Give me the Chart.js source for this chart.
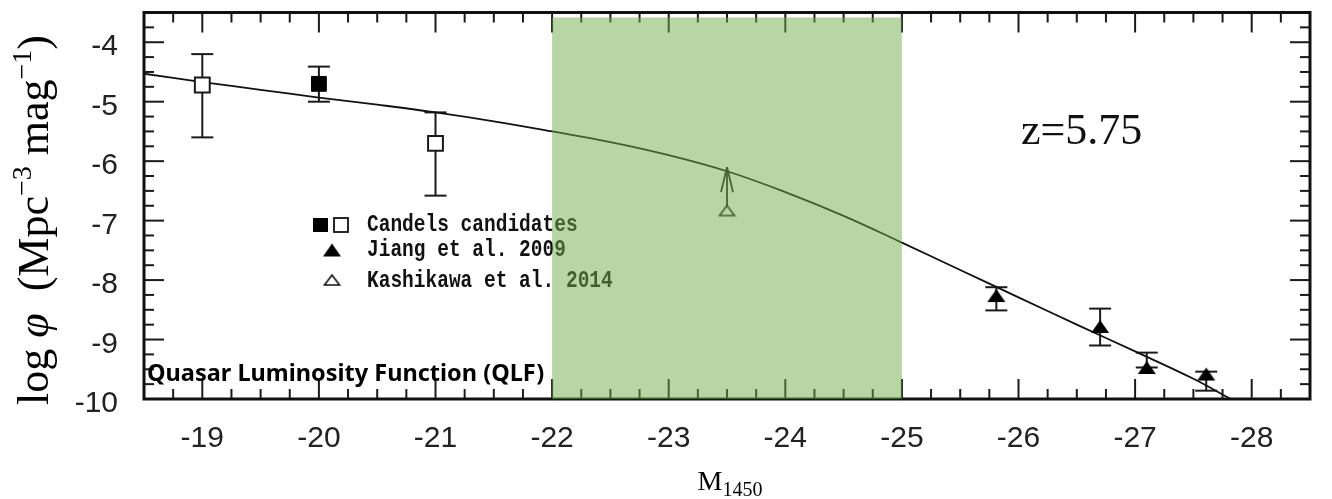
<!DOCTYPE html>
<html>
<head>
<meta charset="utf-8">
<script src="https://cdn.jsdelivr.net/npm/chart.js@4.4.0/dist/chart.umd.min.js"></script>
<style>
  html, body { margin: 0; padding: 0; background: #fff; }
  #wrap { width: 1332px; height: 499px; }
</style>
</head>
<body>
<div id="wrap"><canvas id="qlf"></canvas></div>
<script>
// axis tick labels
const xTicks = [-19, -20, -21, -22, -23, -24, -25, -26, -27, -28];
const yTicks = [-10, -9, -8, -7, -6, -5, -4];

// QLF model curve at z=5.75
const curveM = [-18.5, -19, -19.5, -20, -20.5, -21, -21.5, -22, -22.5, -23, -23.5, -24, -24.5, -25, -25.5, -26, -26.5, -27, -27.5, -27.82];
const curvePhi = [-4.53, -4.67, -4.80, -4.93, -5.05, -5.18, -5.33, -5.50, -5.68, -5.90, -6.17, -6.52, -6.92, -7.37, -7.83, -8.29, -8.75, -9.20, -9.66, -10.0];

// Candels candidates (filled / open)
const candelsFilledM = [-20];
const candelsFilledPhi = [-4.70];
const candelsFilledHi = [-4.41];
const candelsFilledLo = [-5.00];

const candelsOpenM = [-19, -21];
const candelsOpenPhi = [-4.72, -5.70];
const candelsOpenHi = [-4.20, -5.18];
const candelsOpenLo = [-5.60, -6.58];

// Jiang et al. 2009
const jiangM = [-25.81, -26.70, -27.10, -27.61];
const jiangPhi = [-8.26, -8.78, -9.47, -9.58];
const jiangHi = [-8.12, -8.48, -9.22, -9.54];
const jiangLo = [-8.51, -9.10, -9.47, -9.86];

// Kashikawa et al. 2014, lower limit
const kashM = [-23.5];
const kashPhi = [-6.83];
const kashArrowTo = [-6.10];

// highlighted magnitude range
const bandFrom = -22;
const bandTo = -25;

const SERIF = "'Liberation Serif', 'DejaVu Serif', serif";
const SANS = "'Liberation Sans', Arial, sans-serif";

function pts(xs, ys) {
  return xs.map((x, i) => ({ x: x, y: ys[i] }));
}

function triangleImage(w, h, filled) {
  const c = document.createElement('canvas');
  c.width = w + 4;
  c.height = h + 4;
  const g = c.getContext('2d');
  g.beginPath();
  g.moveTo(c.width / 2, 2);
  g.lineTo(w + 2, h + 2);
  g.lineTo(2, h + 2);
  g.closePath();
  if (filled) {
    g.fillStyle = '#000';
    g.fill();
  } else {
    g.fillStyle = '#fff';
    g.fill();
    g.lineWidth = 1.6;
    g.strokeStyle = '#111';
    g.stroke();
  }
  return c;
}

const triFilled = triangleImage(18, 13, true);
const triOpen = triangleImage(15, 10, false);

function line(ctx, x1, y1, x2, y2) {
  ctx.beginPath();
  ctx.moveTo(x1, y1);
  ctx.lineTo(x2, y2);
  ctx.stroke();
}

function drawErrors(chart, ms, his, los) {
  const { ctx, scales: { x, y } } = chart;
  ms.forEach((m, i) => {
    const px = x.getPixelForValue(m);
    const top = y.getPixelForValue(his[i]);
    const bot = y.getPixelForValue(los[i]);
    line(ctx, px, top, px, bot);
    line(ctx, px - 11, top, px + 11, top);
    line(ctx, px - 11, bot, px + 11, bot);
  });
}

// text made of pieces with their own font and vertical shift
function richWidth(ctx, parts) {
  let w = 0;
  parts.forEach(p => { ctx.font = p[1]; w += ctx.measureText(p[0]).width; });
  return w;
}
function drawRich(ctx, parts, x0) {
  let x = x0;
  parts.forEach(p => {
    ctx.font = p[1];
    ctx.fillText(p[0], x, p[2]);
    x += ctx.measureText(p[0]).width;
  });
}

const errorBarPlugin = {
  id: 'errorBars',
  beforeDatasetsDraw(chart) {
    const ctx = chart.ctx;
    ctx.save();
    ctx.strokeStyle = '#1a1a1a';
    ctx.lineWidth = 2;
    drawErrors(chart, candelsOpenM, candelsOpenHi, candelsOpenLo);
    drawErrors(chart, candelsFilledM, candelsFilledHi, candelsFilledLo);
    drawErrors(chart, jiangM, jiangHi, jiangLo);

    // upward arrow for the lower limit
    const { x, y } = chart.scales;
    kashM.forEach((m, i) => {
      const px = x.getPixelForValue(m);
      const from = y.getPixelForValue(kashPhi[i]) - 4;
      const to = y.getPixelForValue(kashArrowTo[i]);
      ctx.lineWidth = 1.8;
      line(ctx, px, from, px, to);
      line(ctx, px, to, px - 6, to + 25);
      line(ctx, px, to, px + 6, to + 25);
    });
    ctx.restore();
  }
};

const framePlugin = {
  id: 'frameAndText',
  afterDraw(chart) {
    const { ctx, chartArea: a, scales: { x, y } } = chart;
    ctx.save();

    // inward tick marks on all four sides
    ctx.strokeStyle = '#1a1a1a';
    ctx.lineWidth = 2;
    for (let k = 1; k < 40; k++) {
      const v = -18.5 - k * 0.25;
      const len = Number.isInteger(v) ? 20 : 10;
      const px = x.getPixelForValue(v);
      line(ctx, px, a.top, px, a.top + len);
      line(ctx, px, a.bottom, px, a.bottom - len);
    }
    for (let k = 1; k < 26; k++) {
      const v = -10 + k * 0.25;
      const len = Number.isInteger(v) ? 20 : 10;
      const py = y.getPixelForValue(v);
      line(ctx, a.left, py, a.left + len, py);
      line(ctx, a.right, py, a.right - len, py);
    }
    ctx.lineWidth = 3;
    ctx.strokeStyle = '#111';
    ctx.strokeRect(a.left, a.top, a.right - a.left, a.bottom - a.top);

    // legend
    ctx.fillStyle = '#000';
    ctx.fillRect(313, 218, 15, 14);
    ctx.lineWidth = 1.8;
    ctx.strokeRect(334, 218, 14, 14);
    ctx.drawImage(triFilled, 332 - triFilled.width / 2, 250 - triFilled.height / 2);
    ctx.drawImage(triOpen, 332 - triOpen.width / 2, 280 - triOpen.height / 2);
    ctx.fillStyle = '#111';
    ctx.textBaseline = 'middle';
    ctx.textAlign = 'left';
    ctx.font = "bold 19.5px 'Liberation Mono', monospace";
    [['Candels candidates', 225], ['Jiang et al. 2009', 250], ['Kashikawa et al. 2014', 281]].forEach(r => {
      ctx.save();
      ctx.translate(367, r[1]);
      ctx.scale(1, 1.2);
      ctx.fillText(r[0], 0, 0);
      ctx.restore();
    });

    // redshift label
    ctx.fillStyle = '#111';
    ctx.textBaseline = 'alphabetic';
    ctx.font = '44px ' + SERIF;
    ctx.fillText('z=5.75', 1021, 144);

    // caption
    ctx.fillStyle = '#000';
    ctx.font = "bold 23.5px 'Noto Sans', sans-serif";
    ctx.fillText('Quasar Luminosity Function (QLF)', 147, 381);

    // x axis title
    const xTitle = [['M', '28px ' + SERIF, 0], ['1450', '20px ' + SERIF, 6]];
    const xw = richWidth(ctx, xTitle);
    ctx.save();
    ctx.translate((a.left + a.right) / 2 + 3, 490);
    drawRich(ctx, xTitle, -xw / 2);
    ctx.restore();

    // y axis title
    const yTitle = [
      ['log ', '44px ' + SERIF, 0],
      ['φ', 'italic 44px ' + SERIF, 0],
      ['  (Mpc', '44px ' + SERIF, 0],
      ['−3', '28px ' + SERIF, -17],
      [' mag', '44px ' + SERIF, 0],
      ['−1', '28px ' + SERIF, -17],
      [')', '44px ' + SERIF, 0]
    ];
    const yw = richWidth(ctx, yTitle);
    ctx.save();
    ctx.translate(48, 220);
    ctx.rotate(-Math.PI / 2);
    drawRich(ctx, yTitle, -yw / 2);
    ctx.restore();

    // translucent green window over the plot
    ctx.fillStyle = 'rgba(112, 173, 71, 0.5)';
    const bx1 = x.getPixelForValue(bandFrom);
    const bx2 = x.getPixelForValue(bandTo);
    const by = y.getPixelForValue(-3.583);
    ctx.fillRect(bx1, by, bx2 - bx1, a.bottom - by);

    ctx.restore();
  }
};

Chart.defaults.font.family = SANS;
Chart.defaults.color = '#222';

new Chart(document.getElementById('qlf'), {
  type: 'scatter',
  data: {
    datasets: [
      {
        label: 'QLF',
        type: 'line',
        data: pts(curveM, curvePhi),
        borderColor: '#111',
        borderWidth: 1.8,
        pointRadius: 0,
        tension: 0.4,
        fill: false,
        order: 5
      },
      {
        label: 'Candels candidates',
        data: pts(candelsFilledM, candelsFilledPhi),
        pointStyle: 'rect',
        pointRadius: 10.5,
        backgroundColor: '#000',
        borderColor: '#000',
        borderWidth: 1,
        order: 1
      },
      {
        label: 'Candels candidates (open)',
        data: pts(candelsOpenM, candelsOpenPhi),
        pointStyle: 'rect',
        pointRadius: 10.5,
        backgroundColor: '#fff',
        borderColor: '#1a1a1a',
        borderWidth: 2,
        order: 1
      },
      {
        label: 'Jiang et al. 2009',
        data: pts(jiangM, jiangPhi),
        pointStyle: triFilled,
        order: 1
      },
      {
        label: 'Kashikawa et al. 2014',
        data: pts(kashM, kashPhi),
        pointStyle: triOpen,
        order: 1
      }
    ]
  },
  options: {
    responsive: true,
    maintainAspectRatio: false,
    animation: false,
    devicePixelRatio: 1,
    layout: { padding: { top: 10, right: 22, left: 0, bottom: 0 } },
    plugins: {
      legend: { display: false },
      tooltip: { enabled: false }
    },
    scales: {
      x: {
        type: 'linear',
        reverse: true,
        min: -28.5,
        max: -18.5,
        grid: { display: false, drawTicks: false },
        border: { display: false },
        afterBuildTicks: s => { s.ticks = xTicks.map(v => ({ value: v })); },
        afterFit: s => {
          s.height = 100;
          s.paddingLeft = 0;
          s.paddingRight = 0;
        },
        ticks: {
          padding: 22,
          font: { size: 30 },
          color: '#222',
          callback: v => String(v)
        }
      },
      y: {
        type: 'linear',
        min: -10,
        max: -3.5,
        grid: { display: false, drawTicks: false },
        border: { display: false },
        afterBuildTicks: s => { s.ticks = yTicks.map(v => ({ value: v })); },
        afterFit: s => {
          s.width = 144;
          s.paddingTop = 0;
          s.paddingBottom = 0;
        },
        ticks: {
          padding: 26,
          labelOffset: 5,
          font: { size: 30 },
          color: '#222',
          callback: v => String(v)
        }
      }
    }
  },
  plugins: [errorBarPlugin, framePlugin]
});
</script>
</body>
</html>
